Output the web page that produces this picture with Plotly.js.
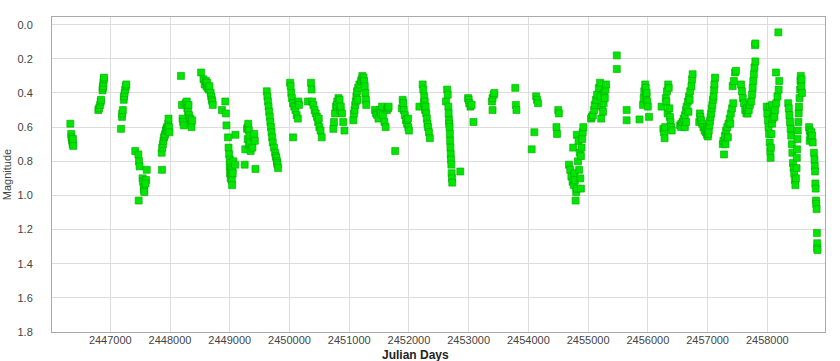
<!DOCTYPE html>
<html>
<head>
<meta charset="utf-8">
<script src="https://cdn.plot.ly/plotly-3.0.1.min.js"></script>
<style>html,body{margin:0;padding:0;background:#fff;}#chart{width:840px;height:361px;}</style>
</head>
<body>
<div id="chart"></div>
<script>
const julianDays = [
2446331,2446345,2446350,2446360,2446370,2446380,2446375,
2446800,2446810,2446830,2446840,2446845,2446870,2446875,2446880,2446885,2446890,2446895,
2447180,2447195,2447200,2447210,2447225,2447230,2447240,2447250,2447260,2447268,
2447418,2447470,2447480,2447490,2447475,2447540,2447550,2447560,2447565,2447570,2447600,2447610,2447590,
2447865,2447860,2447870,2447880,2447890,2447900,2447910,2447920,2447930,2447940,2447950,2447960,2447970,2447975,2447985,2447990,
2448183,2448200,2448210,2448220,2448230,2448260,2448280,2448290,2448300,2448310,2448320,2448340,2448350,2448360,2448370,
2448520,2448560,2448580,2448600,2448610,2448620,2448630,2448650,2448660,2448680,2448690,2448700,2448710,2448715,
2448870,2448925,2448935,2448945,2448970,2448980,2448990,2449000,2449000,2449005,2449010,2449015,2449020,2449025,2449030,2449035,2449040,2449045,2449050,2449060,2449090,2449095,2449250,2449430,
2449260,2449290,2449300,2449300,2449310,2449320,2449320,2449330,2449340,2449350,2449380,2449400,2449410,2449420,
2449620,2449630,2449640,2449650,2449660,2449670,2449680,2449690,2449700,2449710,2449720,2449740,2449760,2449770,2449780,2449790,2449795,2449800,2449810,
2450010,2450020,2450030,2450040,2450060,2450060,2450080,2450100,2450120,2450140,2450150,2450160,
2450310,2450360,2450370,2450380,2450400,2450420,2450440,2450460,2450480,2450490,2450500,2450520,2450540,
2450735,2450745,2450760,2450780,2450790,2450800,2450820,2450840,2450850,2450860,2450880,2450900,2450920,
2451070,2451080,2451090,2451100,2451110,2451120,2451130,2451140,2451150,2451170,2451200,2451210,2451220,2451240,2451250,2451260,2451270,2451280,2451285,
2451430,2451450,2451470,2451490,2451510,2451530,2451550,2451570,2451590,2451610,2451630,2451650,2451660,2451770,
2451880,2451895,2451905,2451915,2451930,2451950,2451970,2451985,2451990,2452000,
2452175,2452230,2452240,2452250,2452255,2452265,2452270,2452280,2452290,2452300,2452310,2452320,2452335,2452350,
2452620,2452640,2452650,2452660,2452665,2452670,2452675,2452680,2452685,2452690,2452695,2452700,2452705,2452710,2452715,2452720,2452725,2452860,
2452990,2453000,2453010,2453030,2453050,2453080,
2453390,2453400,2453400,2453420,2453430,
2453780,2453790,2453800,
2454055,2454100,2454130,2454145,2454160,2454470,2454480,2454500,2454510,
2454680,2454700,2454720,2454740,2454750,2454760,2454770,2454780,2454790,2454800,2454810,2454810,2454830,2454840,2454850,2454860,2454870,2454880,2454880,2454890,2454900,2454910,2454920,
2455050,2455060,2455080,2455100,2455110,2455130,2455150,2455180,2455200,2455210,2455220,2455230,2455250,2455260,2455270,2455280,2455290,2455300,
2455480,2455480,2455645,2455645,
2455860,2455920,2455930,2455940,2455955,2455965,2455975,2455980,2455990,2456000,2456020,
2456230,2456260,2456270,2456280,2456290,2456300,2456310,2456320,2456330,2456340,2456350,2456360,2456370,2456380,2456390,2456400,
2456540,2456560,2456560,2456580,2456600,2456620,2456620,2456640,2456640,2456650,2456670,2456680,2456690,2456700,2456710,2456730,2456740,2456750,
2456860,2456870,2456880,2456890,2456910,2456930,2456950,2456970,2456990,2456990,2457000,2457005,2457010,2457020,2457030,2457040,2457050,2457060,2457070,2457080,2457090,2457100,2457110,2457115,2457125,
2457255,2457265,2457275,2457290,2457300,2457310,2457330,2457340,2457350,2457370,2457380,2457390,2457410,2457420,2457430,2457440,2457460,2457475,
2457560,2457575,2457590,2457610,2457630,2457650,2457660,2457670,2457690,2457710,2457730,2457745,2457755,2457765,2457775,2457785,2457795,2457800,2457800,
2457990,2458000,2458010,2458020,2458030,2458040,2458040,2458050,2458055,2458060,2458070,2458080,2458080,2458090,2458110,2458120,2458130,2458145,2458150,2458170,2458185,2458190,2458200,
2458350,2458360,2458370,2458380,2458390,2458400,2458410,2458420,2458430,2458440,2458450,2458460,2458470,2458480,2458490,2458495,2458500,2458505,2458510,2458520,2458525,2458530,2458540,2458550,2458555,2458560,2458570,2458575,2458580,
2458700,2458710,2458710,2458720,2458730,2458740,2458750,2458760,2458780,2458790,2458795,2458800,2458805,2458810,2458815,2458820,2458825,2458830,2458835,2458835,2458840
];
const magnitudes = [
0.58,0.64,0.66,0.68,0.70,0.71,0.67,
0.50,0.49,0.47,0.45,0.44,0.385,0.37,0.36,0.34,0.32,0.31,
0.61,0.54,0.52,0.50,0.44,0.42,0.40,0.38,0.36,0.35,
0.74,0.76,0.80,0.83,1.03,0.90,0.92,0.95,0.97,0.98,0.91,0.85,0.93,
0.85,0.75,0.72,0.70,0.68,0.66,0.65,0.64,0.62,0.61,0.60,0.62,0.58,0.55,0.60,0.63,
0.30,0.47,0.55,0.57,0.59,0.46,0.45,0.49,0.51,0.47,0.53,0.55,0.58,0.60,0.56,
0.28,0.32,0.35,0.33,0.36,0.34,0.37,0.38,0.36,0.40,0.42,0.44,0.45,0.47,
0.50,0.45,0.52,0.59,0.66,0.72,0.76,0.79,0.83,0.87,0.81,0.90,0.84,0.86,0.88,0.91,0.94,0.85,0.87,0.80,0.82,0.645,0.82,0.845,
0.73,0.61,0.60,0.67,0.58,0.62,0.70,0.65,0.69,0.74,0.72,0.66,0.64,0.68,
0.39,0.42,0.45,0.48,0.51,0.54,0.57,0.60,0.63,0.66,0.69,0.72,0.75,0.77,0.78,0.80,0.81,0.82,0.84,
0.34,0.36,0.40,0.43,0.46,0.66,0.48,0.50,0.53,0.55,0.45,0.47,
0.45,0.34,0.38,0.45,0.47,0.50,0.52,0.54,0.57,0.55,0.60,0.62,0.66,
0.61,0.57,0.52,0.48,0.47,0.45,0.43,0.44,0.50,0.48,0.52,0.57,0.62,
0.56,0.52,0.50,0.47,0.45,0.42,0.39,0.44,0.37,0.35,0.33,0.32,0.30,0.31,0.33,0.36,0.40,0.44,0.47,
0.50,0.52,0.53,0.55,0.50,0.52,0.48,0.53,0.57,0.60,0.50,0.49,0.48,0.74,
0.49,0.44,0.46,0.50,0.53,0.56,0.58,0.55,0.60,0.62,
0.48,0.35,0.38,0.46,0.42,0.45,0.50,0.48,0.52,0.55,0.58,0.60,0.63,0.665,
0.45,0.38,0.41,0.48,0.52,0.56,0.58,0.60,0.64,0.68,0.72,0.76,0.79,0.82,0.87,0.90,0.925,0.86,
0.43,0.44,0.46,0.48,0.47,0.57,
0.45,0.43,0.50,0.41,0.40,
0.37,0.47,0.50,
0.73,0.63,0.42,0.44,0.46,0.60,0.64,0.50,0.52,
0.82,0.85,0.89,0.92,0.72,0.94,0.87,0.91,1.03,0.98,0.96,0.645,0.80,0.68,0.85,0.75,0.90,0.96,0.77,0.72,0.67,0.63,0.60,
0.55,0.54,0.53,0.50,0.47,0.44,0.41,0.37,0.34,0.42,0.55,0.48,0.51,0.46,0.40,0.43,0.38,0.35,
0.18,0.26,0.50,0.56,
0.555,0.47,0.43,0.39,0.35,0.37,0.42,0.40,0.45,0.48,0.54,
0.48,0.61,0.63,0.665,0.60,0.43,0.45,0.39,0.52,0.35,0.37,0.49,0.54,0.57,0.60,0.62,
0.59,0.58,0.60,0.57,0.55,0.53,0.60,0.50,0.57,0.48,0.45,0.51,0.42,0.44,0.39,0.36,0.32,0.29,
0.57,0.52,0.54,0.56,0.58,0.60,0.62,0.63,0.645,0.60,0.61,0.655,0.64,0.62,0.59,0.565,0.54,0.52,0.49,0.47,0.44,0.42,0.38,0.35,0.31,
0.70,0.68,0.76,0.65,0.70,0.62,0.60,0.66,0.58,0.55,0.58,0.52,0.49,0.36,0.46,0.33,0.28,0.27,
0.35,0.39,0.43,0.46,0.50,0.52,0.49,0.52,0.50,0.47,0.45,0.41,0.37,0.33,0.29,0.25,0.12,0.215,0.11,
0.48,0.52,0.56,0.60,0.64,0.69,0.48,0.74,0.78,0.72,0.64,0.58,0.47,0.55,0.52,0.54,0.50,0.28,0.46,0.42,0.045,0.38,0.33,
0.46,0.49,0.53,0.57,0.61,0.65,0.70,0.75,0.81,0.84,0.87,0.91,0.94,0.90,0.84,0.78,0.73,0.67,0.62,0.57,0.52,0.48,0.43,0.38,0.33,0.30,0.36,0.32,0.40,
0.60,0.62,0.68,0.64,0.66,0.63,0.65,0.69,0.75,0.79,0.83,0.86,0.93,0.96,1.03,1.05,1.08,1.22,1.28,1.31,1.32
];
const xTickValues = [2447000,2448000,2449000,2450000,2451000,2452000,2453000,2454000,2455000,2456000,2457000,2458000];
const yTickValues = [0,0.2,0.4,0.6,0.8,1.0,1.2,1.4,1.6,1.8];

const trace = {
  type: 'scatter',
  mode: 'markers',
  x: julianDays,
  y: magnitudes,
  marker: {symbol: 'square', size: 7, color: '#00e600', line: {color: '#00aa00', width: 0.6}},
  hoverinfo: 'x+y'
};

const layout = {
  width: 840, height: 361,
  margin: {l: 52, r: 15, t: 17, b: 29, pad: 0},
  paper_bgcolor: '#ffffff', plot_bgcolor: '#ffffff',
  showlegend: false,
  font: {family: 'Liberation Sans, Arial, sans-serif', size: 11, color: '#444'},
  xaxis: {
    range: [2446024, 2458966],
    tickvals: xTickValues,
    ticktext: xTickValues.map(String),
    showgrid: true, gridcolor: '#dddddd', gridwidth: 1,
    zeroline: false,
    showline: true, linecolor: '#aaaaaa', linewidth: 1, mirror: true,
    ticks: '', ticklabelstandoff: -2, tickfont: {size: 11, color: '#444'}
  },
  yaxis: {
    range: [1.8, -0.045],
    tickvals: yTickValues,
    ticktext: yTickValues.map(v => v.toFixed(1)),
    showgrid: true, gridcolor: '#dddddd', gridwidth: 1,
    zeroline: false,
    showline: true, linecolor: '#aaaaaa', linewidth: 1, mirror: true,
    ticks: '', ticklabelstandoff: 16,
    tickfont: {size: 11, color: '#444'},
    title: {text: 'Magnitude', font: {size: 11, color: '#444'}, standoff: 3}
  },
  annotations: [{
    text: '<b>Julian Days</b>', xref: 'paper', yref: 'paper',
    x: 0.47, y: 0, xanchor: 'center', yanchor: 'top', yshift: -14,
    showarrow: false, font: {size: 12, color: '#222'}
  }]
};

Plotly.newPlot('chart', [trace], layout, {displayModeBar: false, staticPlot: true});
</script>
</body>
</html>
